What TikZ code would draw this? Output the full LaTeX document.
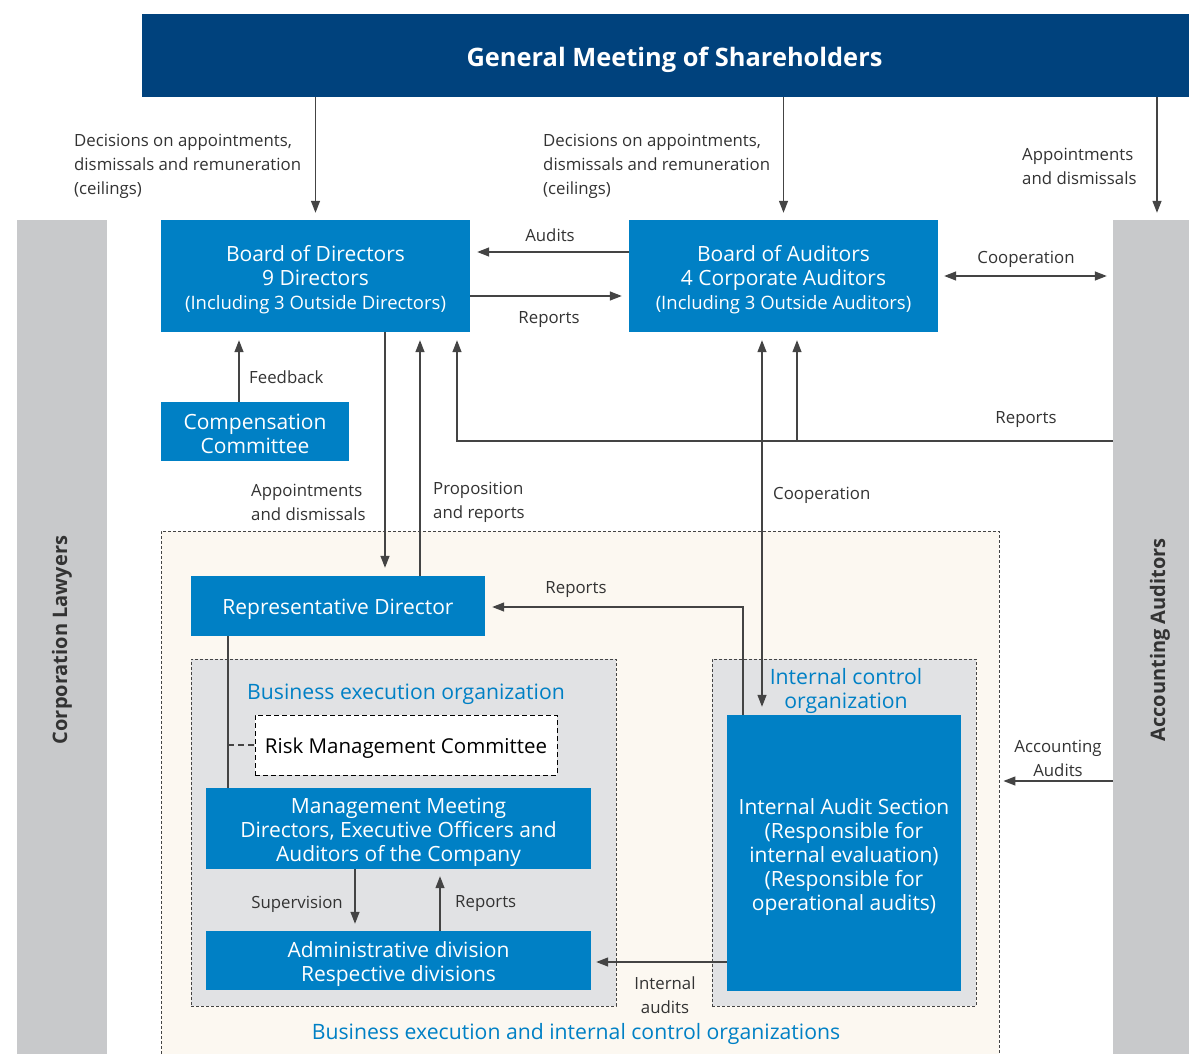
\documentclass[tikz,border=0pt]{standalone}
\usepackage{fontspec}
\setmainfont{Open Sans}
\usetikzlibrary{arrows.meta}
\definecolor{navy}{RGB}{0,66,125}
\definecolor{bblue}{RGB}{0,128,197}
\definecolor{barg}{RGB}{200,201,203}
\definecolor{ing}{RGB}{225,226,228}
\definecolor{cream}{RGB}{252,248,241}
\definecolor{lin}{RGB}{68,68,68}
\definecolor{lbl}{RGB}{51,51,51}
\newcommand\tp{\rule{0pt}{24pt}}
\begin{document}
\begin{tikzpicture}[x=1pt,y=-1pt,
  box/.style={fill=bblue,text=white,inner sep=0pt,align=center,font=\fontsize{21}{24}\selectfont},
  bar/.style={fill=barg,inner sep=0pt},
  lab/.style={text=lbl,inner sep=0pt,font=\fontsize{16.8}{24}\selectfont},
  ttl/.style={text=bblue,inner sep=0pt,align=center,font=\fontsize{21.2}{24}\selectfont},
  rot/.style={rotate=90,text=lbl,inner sep=0pt,font=\fontsize{20}{24}\selectfont\bfseries},
  area/.style={draw=lin,line width=0.9pt,dash pattern=on 3pt off 2pt,inner sep=0pt},
  ln/.style={draw=lin,line width=1.3pt},
  arr/.style={ln,-{Triangle[length=12pt,width=9pt]},shorten >=7pt},
  darr/.style={ln,{Triangle[length=12pt,width=9pt]}-{Triangle[length=12pt,width=9pt]},shorten >=6pt,shorten <=6pt}
]
\useasboundingbox[fill=white] (0,0) rectangle (1189,1054);

% side bars
\node[bar,minimum width=90,minimum height=834] (law) at (62,637) {};
\node[rot] (lawt) at (62,640) {Corporation Lawyers};
\node[bar,minimum width=94,minimum height=834] (aa) at (1160,637) {};
\node[rot] (aat) at (1160,640) {Accounting Auditors};

% general meeting
\node[fill=navy,text=white,inner sep=0pt,minimum width=1065,minimum height=83,text height=23pt,text depth=0pt,font=\fontsize{25.4}{28}\selectfont\bfseries] (gm) at (674.5,55.5) {General Meeting of Shareholders};

% areas
\node[area,fill=cream,minimum width=838,minimum height=539] (outer) at (580,800.5) {};
\node[area,fill=ing,minimum width=425,minimum height=347] (beo) at (403.5,832.5) {};
\node[area,fill=ing,minimum width=264,minimum height=347] (ico) at (844,832.5) {};

% boxes
\node[box,minimum width=309,minimum height=112] (bod) at (315.5,276)
  {\tp Board of Directors\\9 Directors\\{\fontsize{18.5}{24}\selectfont (Including 3 Outside Directors)}};
\node[box,minimum width=309,minimum height=112] (boa) at (783.5,276)
  {\tp Board of Auditors\\4 Corporate Auditors\\{\fontsize{18.5}{24}\selectfont (Including 3 Outside Auditors)}};
\node[box,minimum width=188,minimum height=59] (comp) at (255,431.5) {\rule{0pt}{21pt}Compensation\\Committee};
\node[box,minimum width=294,minimum height=60] (rep) at (338,606) {\rule{0pt}{22pt}Representative Director};
\node[draw=black,line width=1pt,dash pattern=on 5pt off 3pt,fill=white,inner sep=0pt,minimum width=302,minimum height=60,font=\fontsize{20.5}{24}\selectfont] (risk) at (406,745) {\rule{0pt}{22pt}Risk Management Committee};
\node[box,minimum width=385,minimum height=81] (mm) at (398.5,828.5) {\tp Management Meeting\\Directors, Executive Officers and\\Auditors of the Company};
\node[box,minimum width=385,minimum height=59] (adm) at (398.5,960.5) {\tp Administrative division\\Respective divisions};
\node[box,minimum width=234,minimum height=276] (ias) at (844,853)
  {\tp Internal Audit Section\\(Responsible for\\internal evaluation)\\(Responsible for\\operational audits)};

% titles
\node[ttl] (beot) at (406,694) {Business execution organization};
\node[ttl] (icot) at (846,691) {Internal control\\organization};
\node[ttl] (outt) at (576,1034) {Business execution and internal control organizations};

% labels
\node[lab,align=left,anchor=west] (l1) at (74,166) {Decisions on appointments,\\dismissals and remuneration\\(ceilings)};
\node[lab,align=left,anchor=west] (l2) at (543,166) {Decisions on appointments,\\dismissals and remuneration\\(ceilings)};
\node[lab,align=left,anchor=west] (l3) at (1022,166) {Appointments\\and dismissals};
\node[lab] (l4) at (550,235) {Audits};
\node[lab] (l5) at (549,320) {Reports};
\node[lab] (l6) at (1026,259) {Cooperation};
\node[lab,anchor=west] (l7) at (249,377) {Feedback};
\node[lab,align=left,anchor=west] (l8) at (251,502) {Appointments\\and dismissals};
\node[lab,align=left,anchor=west] (l9) at (433,502) {Proposition\\and reports};
\node[lab] (l10) at (1026,420) {Reports};
\node[lab,anchor=west] (l11) at (773,495) {Cooperation};
\node[lab] (l12) at (576,590) {Reports};
\node[lab,anchor=east] (l13) at (343,904) {Supervision};
\node[lab,anchor=west] (l14) at (455,904) {Reports};
\node[lab,align=center] (l15) at (665,995) {Internal\\audits};
\node[lab,align=center] (l16) at (1058,758) {Accounting\\Audits};

% column coordinates
\coordinate (xa) at (385,0);
\coordinate (xp) at (420,0);
\coordinate (xf) at (239,0);
\coordinate (xc) at (762,0);
\coordinate (xi) at (743,0);
\coordinate (xs) at (355,0);
\coordinate (xq) at (440,0);
\coordinate (xd) at (228,0);
\coordinate (xaa) at (1157,0);
\coordinate (rjL) at (457,441);
\coordinate (rjM) at (797,441);
\coordinate (rpy) at (0,607);
\coordinate (aay) at (0,781);

% connectors
\draw[arr] (bod.north |- gm.south) -- (bod.north);
\draw[arr] (boa.north |- gm.south) -- (boa.north);
\draw[arr] (xaa |- gm.south) -- (xaa |- aa.north);
\draw[arr] ([yshift=24]boa.west) -- ([yshift=24]bod.east);
\draw[arr] ([yshift=-20]bod.east) -- ([yshift=-20]boa.west);
\draw[darr] (boa.east) -- (boa.east -| aa.west);
\draw[arr,shorten >=8pt] (xf |- comp.north) -- (xf |- bod.south);
\draw[arr,shorten >=8pt] (xa |- bod.south) -- (xa |- rep.north);
\draw[arr,shorten >=8pt] (xp |- rep.north) -- (xp |- bod.south);
\draw[arr,shorten >=8pt] (aa.west |- rjL) -- (rjL) -- (rjL |- bod.south);
\draw[arr,shorten >=8pt] (rjM) -- (rjM |- boa.south);
\draw[darr,shorten >=8pt,shorten <=8pt] (xc |- boa.south) -- (xc |- ias.north);
\draw[arr] (xi |- ias.north) -- (xi |- rpy) -- (rep.east |- rpy);
\draw[ln] (xd |- rep.south) -- (xd |- mm.north);
\draw[draw=lin,line width=1.2pt,dash pattern=on 6pt off 4pt] (xd |- risk.west) -- (risk.west);
\draw[arr] (xs |- mm.south) -- (xs |- adm.north);
\draw[arr] (xq |- adm.north) -- (xq |- mm.south);
\draw[arr,shorten >=5pt] ([yshift=-1.5]ias.west |- adm.east) -- ([yshift=-1.5]adm.east);
\draw[arr,shorten >=4pt] (aa.west |- aay) -- (outer.east |- aay);
\end{tikzpicture}
\end{document}
